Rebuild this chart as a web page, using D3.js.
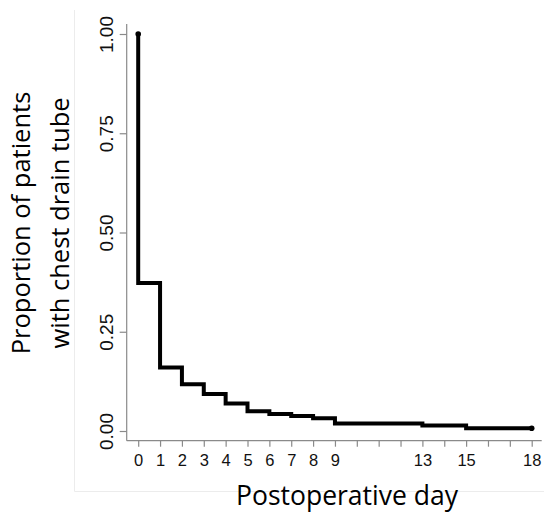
<!DOCTYPE html>
<html>
<head>
<meta charset="utf-8">
<script src="https://cdn.jsdelivr.net/npm/d3@7"></script>
<style>
  body { margin: 0; background: #fff; }
  svg { display: block; }
</style>
</head>
<body>
<svg width="544" height="512"></svg>
<script>
// Kaplan-Meier style step curve, days with chest drain
var startValue = 1.00;
var eventDays = [0, 1, 2, 3, 4, 5, 6, 7, 8, 9, 13, 15];
var proportion = [0.373, 0.160, 0.118, 0.093, 0.069, 0.050, 0.043, 0.038, 0.032, 0.019, 0.014, 0.007];
var lastDay = 18;
var xTicks = d3.range(0, 19);
var xLabels = [0, 1, 2, 3, 4, 5, 6, 7, 8, 9, 13, 15, 18];
var yTicks = [0, 0.25, 0.5, 0.75, 1];

var svg = d3.select("svg");

var plot = {left: 126.7, right: 541.7, top: 24, bottom: 440.7};

var x = d3.scaleLinear().domain([0, 18]).range([138.2, 531.7]);
var y = d3.scaleLinear().domain([0, 1]).range([431, 34]);

// faint outer frame (left + bottom)
svg.append("path")
    .attr("d", "M74.5,10V491.5H544")
    .attr("fill", "none")
    .attr("stroke", "#ececec")
    .attr("stroke-width", 1);

// axis lines
svg.append("line")
    .attr("x1", plot.left).attr("x2", plot.left)
    .attr("y1", plot.top).attr("y2", plot.bottom)
    .attr("stroke", "#8a8a8a").attr("stroke-width", 1.2);
svg.append("line")
    .attr("x1", plot.left).attr("x2", plot.right)
    .attr("y1", plot.bottom).attr("y2", plot.bottom)
    .attr("stroke", "#8a8a8a").attr("stroke-width", 1.2);

var xAxis = svg.append("g")
    .attr("transform", "translate(0," + plot.bottom + ")")
    .call(d3.axisBottom(x)
        .tickValues(xTicks)
        .tickSize(6)
        .tickPadding(7.5)
        .tickFormat(function(d) { return xLabels.indexOf(d) >= 0 ? d : ""; }));
xAxis.select(".domain").remove();
xAxis.selectAll("line").attr("stroke", "#8a8a8a").attr("stroke-width", 1.2);
xAxis.selectAll("text")
    .attr("fill", "#111")
    .style("font-family", "'Liberation Sans', Arial, sans-serif")
    .style("font-size", "16.5px");

var yAxis = svg.append("g")
    .attr("transform", "translate(" + plot.left + ",0)")
    .call(d3.axisLeft(y)
        .tickValues(yTicks)
        .tickSize(7)
        .tickFormat(d3.format(".2f")));
yAxis.select(".domain").remove();
yAxis.selectAll("line").attr("stroke", "#8a8a8a").attr("stroke-width", 1.2);
yAxis.selectAll("text")
    .attr("x", null).attr("dy", null)
    .attr("text-anchor", "middle")
    .attr("transform", "translate(-13.4,0) rotate(-90)")
    .attr("fill", "#111")
    .style("font-family", "'Liberation Sans', Arial, sans-serif")
    .style("font-size", "19px");

// step curve
var pts = [{d: 0, s: startValue}];
for (var i = 0; i < eventDays.length; i++) {
    pts.push({d: eventDays[i], s: proportion[i]});
}
pts.push({d: lastDay, s: proportion[proportion.length - 1]});

var stepLine = d3.line()
    .x(function(d) { return x(d.d); })
    .y(function(d) { return y(d.s); })
    .curve(d3.curveStepAfter);

svg.append("path")
    .attr("d", stepLine(pts))
    .attr("fill", "none")
    .attr("stroke", "#000")
    .attr("stroke-width", 4)
    .attr("stroke-linejoin", "miter");

svg.selectAll("circle.end")
    .data([pts[0], pts[pts.length - 1]])
    .enter().append("circle")
    .attr("class", "end")
    .attr("cx", function(d) { return x(d.d); })
    .attr("cy", function(d) { return y(d.s); })
    .attr("r", 2.8)
    .attr("fill", "#000");

// titles
svg.append("text")
    .attr("x", 347).attr("y", 504.5)
    .attr("text-anchor", "middle")
    .style("font-family", "'Open Sans', sans-serif")
    .style("font-size", "26.5px")
    .attr("fill", "#000")
    .text("Postoperative day");

var yTitle = ["Proportion of patients", "with chest drain tube"];
svg.selectAll("text.ytitle")
    .data(yTitle)
    .enter().append("text")
    .attr("class", "ytitle")
    .attr("text-anchor", "middle")
    .attr("transform", function(d, i) { return "translate(" + (30 + i * 38.5) + ",223) rotate(-90)"; })
    .style("font-family", "'Open Sans', sans-serif")
    .style("font-size", "25.5px")
    .attr("fill", "#000")
    .text(function(d) { return d; });
</script>
</body>
</html>
